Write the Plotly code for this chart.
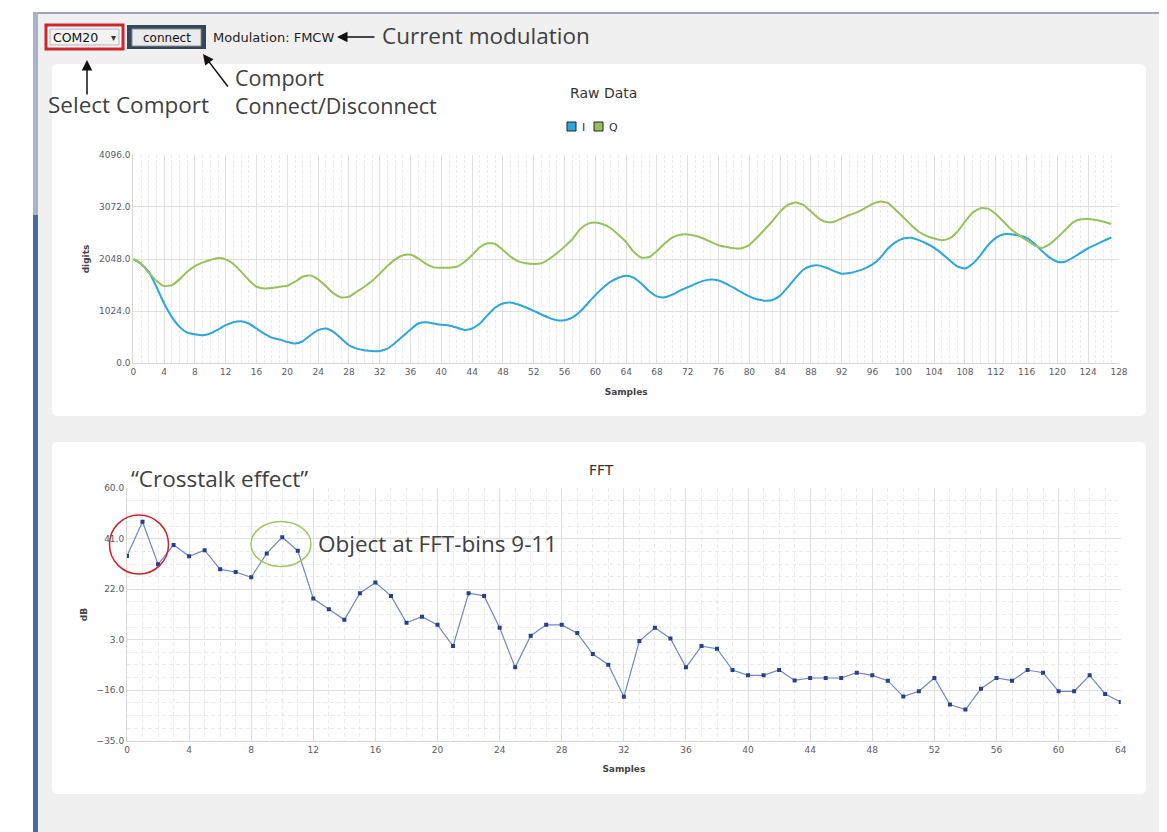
import plotly.graph_objects as go

# ---------------- data ----------------
samples = list(range(128))
i_values = [2048, 1950, 1799, 1503, 1175, 912, 716, 604, 571, 551,
            584, 663, 748, 807, 827, 781, 683, 584, 505, 466,
            420, 387, 433, 551, 650, 683, 617, 486, 354, 289,
            256, 240, 243, 289, 400, 532, 663, 781, 807, 781,
            755, 742, 702, 656, 683, 781, 945, 1096, 1175, 1195,
            1155, 1096, 1030, 958, 893, 847, 847, 899, 1011, 1175,
            1339, 1483, 1602, 1680, 1718, 1678, 1560, 1414, 1315, 1296,
            1348, 1428, 1494, 1560, 1619, 1645, 1626, 1560, 1480, 1395,
            1315, 1256, 1230, 1243, 1329, 1494, 1678, 1837, 1909, 1923,
            1876, 1810, 1758, 1771, 1810, 1865, 1942, 2074, 2253, 2378,
            2451, 2464, 2418, 2352, 2266, 2154, 2022, 1903, 1863, 1956,
            2121, 2319, 2464, 2536, 2536, 2510, 2464, 2352, 2206, 2074,
            1995, 1995, 2074, 2167, 2259, 2332, 2404, 2470]
q_values = [2048, 1963, 1779, 1621, 1516, 1536, 1648, 1799, 1910, 1976,
            2028, 2068, 2041, 1950, 1799, 1634, 1503, 1470, 1477, 1503,
            1523, 1602, 1700, 1726, 1648, 1516, 1372, 1293, 1306, 1405,
            1503, 1615, 1760, 1910, 2041, 2120, 2133, 2061, 1950, 1884,
            1877, 1877, 1897, 1989, 2127, 2278, 2356, 2343, 2225, 2094,
            2002, 1963, 1950, 1963, 2048, 2160, 2291, 2435, 2632, 2737,
            2763, 2731, 2652, 2525, 2380, 2187, 2074, 2088, 2206, 2352,
            2470, 2523, 2530, 2503, 2451, 2385, 2319, 2286, 2259, 2259,
            2325, 2470, 2629, 2794, 2979, 3111, 3157, 3111, 2979, 2847,
            2774, 2781, 2847, 2913, 2965, 3045, 3130, 3177, 3144, 3012,
            2866, 2715, 2583, 2503, 2451, 2418, 2451, 2583, 2781, 2959,
            3045, 3038, 2932, 2781, 2629, 2517, 2418, 2319, 2266, 2339,
            2470, 2616, 2761, 2827, 2833, 2813, 2781, 2734]
fft_bins = list(range(65))
fft_db = [34.5, 47.4, 31.4, 38.7, 34.4, 36.7, 29.5, 28.5, 26.5, 35.5,
          41.6, 36.5, 18.5, 14.5, 10.5, 20.5, 24.5, 19.5, 9.4, 11.7,
          8.6, 0.6, 20.5, 19.5, 7.5, -7.4, 4.5, 8.6, 8.6, 5.5,
          -2.4, -6.4, -18.5, 2.5, 7.5, 3.5, -7.4, 0.6, -0.4, -8.4,
          -10.4, -10.4, -8.4, -12.3, -11.4, -11.4, -11.4, -9.4, -10.4, -12.4,
          -18.4, -16.4, -11.4, -21.4, -23.3, -15.4, -11.4, -12.4, -8.4, -9.4,
          -16.4, -16.4, -10.4, -17.4, -20.4]
raw_yticks = [0, 1024, 2048, 3072, 4096]
fft_yticks = [-35, -16, 3, 22, 41, 60]

# ---------------- geometry helpers ----------------
W, H = 1167, 832
OFF = 8  # page body margin around the figure


def X(px):
    return (px - OFF) / W


def Y(py):
    return 1 - (py - OFF) / H


def rrect_path(x0, y0, x1, y1, r):
    pts = [
        ("M", [(x0 + r, y0)]), ("L", [(x1 - r, y0)]), ("Q", [(x1, y0), (x1, y0 + r)]),
        ("L", [(x1, y1 - r)]), ("Q", [(x1, y1), (x1 - r, y1)]),
        ("L", [(x0 + r, y1)]), ("Q", [(x0, y1), (x0, y1 - r)]),
        ("L", [(x0, y0 + r)]), ("Q", [(x0, y0), (x0 + r, y0)]),
    ]
    s = ""
    for cmd, ps in pts:
        s += cmd + " " + " ".join(f"{X(a):.5f},{Y(b):.5f}" for a, b in ps) + " "
    return s + "Z"


def rect(x0, y0, x1, y1, fill=None, line=None, lw=1):
    return dict(type="rect", xref="paper", yref="paper",
                x0=X(x0), x1=X(x1), y0=Y(y1), y1=Y(y0),
                fillcolor=fill if fill else "rgba(0,0,0,0)",
                line=dict(color=line if line else "rgba(0,0,0,0)", width=lw if line else 0),
                layer="below")


TICKFONT = dict(family="DejaVu Sans", size=9, color="#5c5c66")
TITLEFONT = dict(family="DejaVu Sans", size=9, color="#444444", weight="bold")
BIG = dict(family="Open Sans", size=22.5, color="#404040")
MAJ = "#e0e0e0"
MIN = "#ebebeb"

fig = go.Figure()

fig.add_trace(go.Scatter(x=samples, y=i_values, name="I", mode="lines",
                         line=dict(color="#2ba6de", width=2, shape="spline", smoothing=0.5),
                         xaxis="x", yaxis="y", showlegend=False))
fig.add_trace(go.Scatter(x=samples, y=q_values, name="Q", mode="lines",
                         line=dict(color="#94c35a", width=2, shape="spline", smoothing=0.5),
                         xaxis="x", yaxis="y", showlegend=False))
fig.add_trace(go.Scatter(x=fft_bins, y=fft_db, name="FFT", mode="lines+markers",
                         line=dict(color="#7088c4", width=1.2),
                         marker=dict(color="#24408f", size=4, symbol="square"),
                         xaxis="x2", yaxis="y2", showlegend=False))

shapes = []
# window background and frame
shapes.append(rect(33, 12, W + 20, H + 20, fill="#f0f0f0"))
shapes.append(rect(33, 12, W + 20, 14, fill="#9aa6bd"))
shapes.append(rect(33, 12, 38, 215, fill="#a8b3c8"))
shapes.append(rect(33, 215, 38, H + 20, fill="#4a68a6"))
# white panels
for (y0, y1) in [(64, 416), (442, 794)]:
    shapes.append(dict(type="path", xref="paper", yref="paper",
                       path=rrect_path(52, y0, 1146, y1, 6),
                       fillcolor="#ffffff", line=dict(width=0), layer="below"))
# header widgets
shapes.append(rect(46, 25, 123, 49, fill="#ffffff", line="#d2232a", lw=3))
shapes.append(rect(50, 29, 119, 45, fill="#f3f3f3", line="#b0b0b0", lw=1))
shapes.append(rect(127, 25, 206, 49, fill="#34475a"))
shapes.append(rect(132, 29, 201, 46, fill="#ebebeb", line="#8c8c8c", lw=1))
# legend squares
shapes.append(rect(567, 122, 576, 131, fill="#2ba6de", line="#222222", lw=1))
shapes.append(rect(594, 122, 603, 131, fill="#94c35a", line="#222222", lw=1))
# highlight circles on FFT chart
shapes.append(dict(type="circle", xref="paper", yref="paper",
                   x0=X(109.5), x1=X(168.5), y0=Y(574), y1=Y(515),
                   line=dict(color="#d2232a", width=1.5), layer="above"))
shapes.append(dict(type="circle", xref="paper", yref="paper",
                   x0=X(251), x1=X(311), y0=Y(566.5), y1=Y(521.5),
                   line=dict(color="#9cc863", width=1.5), layer="above"))

ann = []


def text(t, px, py, font, xanchor="left", yanchor="middle", **kw):
    ann.append(dict(text=t, x=X(px), y=Y(py), xref="paper", yref="paper",
                    showarrow=False, font=font, xanchor=xanchor, yanchor=yanchor, **kw))


def arrow(hx, hy, tx, ty):
    ann.append(dict(text="", x=X(hx), y=Y(hy), xref="paper", yref="paper",
                    ax=tx - hx, ay=ty - hy, showarrow=True, arrowhead=2,
                    arrowsize=1.4, arrowwidth=1.5, arrowcolor="#111111"))


text("COM20", 51, 37.5, dict(family="DejaVu Sans", size=12.5, color="#111111"))
text("▾", 113, 37, dict(family="DejaVu Sans", size=10, color="#333333"), xanchor="center")
text("connect", 166.5, 38, dict(family="DejaVu Sans", size=12, color="#111111"), xanchor="center")
text("Modulation: FMCW", 211, 37.5, dict(family="DejaVu Sans", size=13, color="#1e1e1e"))
text("Current modulation", 380, 36, BIG)
text("Select Comport", 46, 104, BIG)
text("Comport<br>Connect/Disconnect", 233, 91,
     dict(family="Open Sans", size=21.5, color="#404040"), align="left")
arrow(337, 37, 376, 37)
arrow(87, 60, 87, 96)
arrow(203, 54, 229, 88)

text("Raw Data", 603, 93, dict(family="DejaVu Sans", size=14, color="#333333"), xanchor="center")
text("I", 580, 127, dict(family="DejaVu Sans", size=11, color="#333333"))
text("Q", 607, 127, dict(family="DejaVu Sans", size=11, color="#333333"))
text("FFT", 601, 470, dict(family="DejaVu Sans", size=14, color="#333333"), xanchor="center")
text("“Crosstalk effect”", 129, 478, BIG)
text("Object at FFT-bins 9-11", 316, 543, BIG)

common_axis = dict(showline=True, linecolor="#d6d6d6", linewidth=1, zeroline=False,
                   tickfont=TICKFONT, ticks="", gridcolor=MAJ, gridwidth=1,
                   showgrid=True, mirror=False, automargin=False)

fig.update_layout(
    width=W, height=H,
    margin=dict(l=0, r=0, t=0, b=0, pad=0, autoexpand=False),
    paper_bgcolor="#ffffff", plot_bgcolor="rgba(0,0,0,0)",
    showlegend=False,
    shapes=shapes, annotations=ann,
    xaxis=dict(domain=[X(133.3), X(1119)], range=[0, 128], tick0=0, dtick=4,
               minor=dict(dtick=1, showgrid=True, gridcolor=MIN, griddash="3px,2px"),
               title=dict(text="Samples", font=TITLEFONT, standoff=12),
               anchor="y", **common_axis),
    yaxis=dict(domain=[Y(363.3), Y(154.7)], range=[0, 4096], tickvals=raw_yticks,
               tickformat=".1f",
               title=dict(text="digits", font=TITLEFONT, standoff=7),
               anchor="x", **common_axis),
    xaxis2=dict(domain=[X(127), X(1120.7)], range=[0, 64], tick0=0, dtick=4,
                minor=dict(dtick=1, showgrid=True, gridcolor=MIN, griddash="4px,3px"),
                title=dict(text="Samples", font=TITLEFONT, standoff=12),
                anchor="y2", **common_axis),
    yaxis2=dict(domain=[Y(740.7), Y(488.3)], range=[-35, 60], tickvals=fft_yticks,
                tickformat=".1f",
                minor=dict(tick0=-35, dtick=4.75, showgrid=True, gridcolor=MIN, griddash="4px,3px"),
                title=dict(text="dB", font=TITLEFONT, standoff=7),
                anchor="x2", **common_axis),
)

fig.write_html("out.html")
